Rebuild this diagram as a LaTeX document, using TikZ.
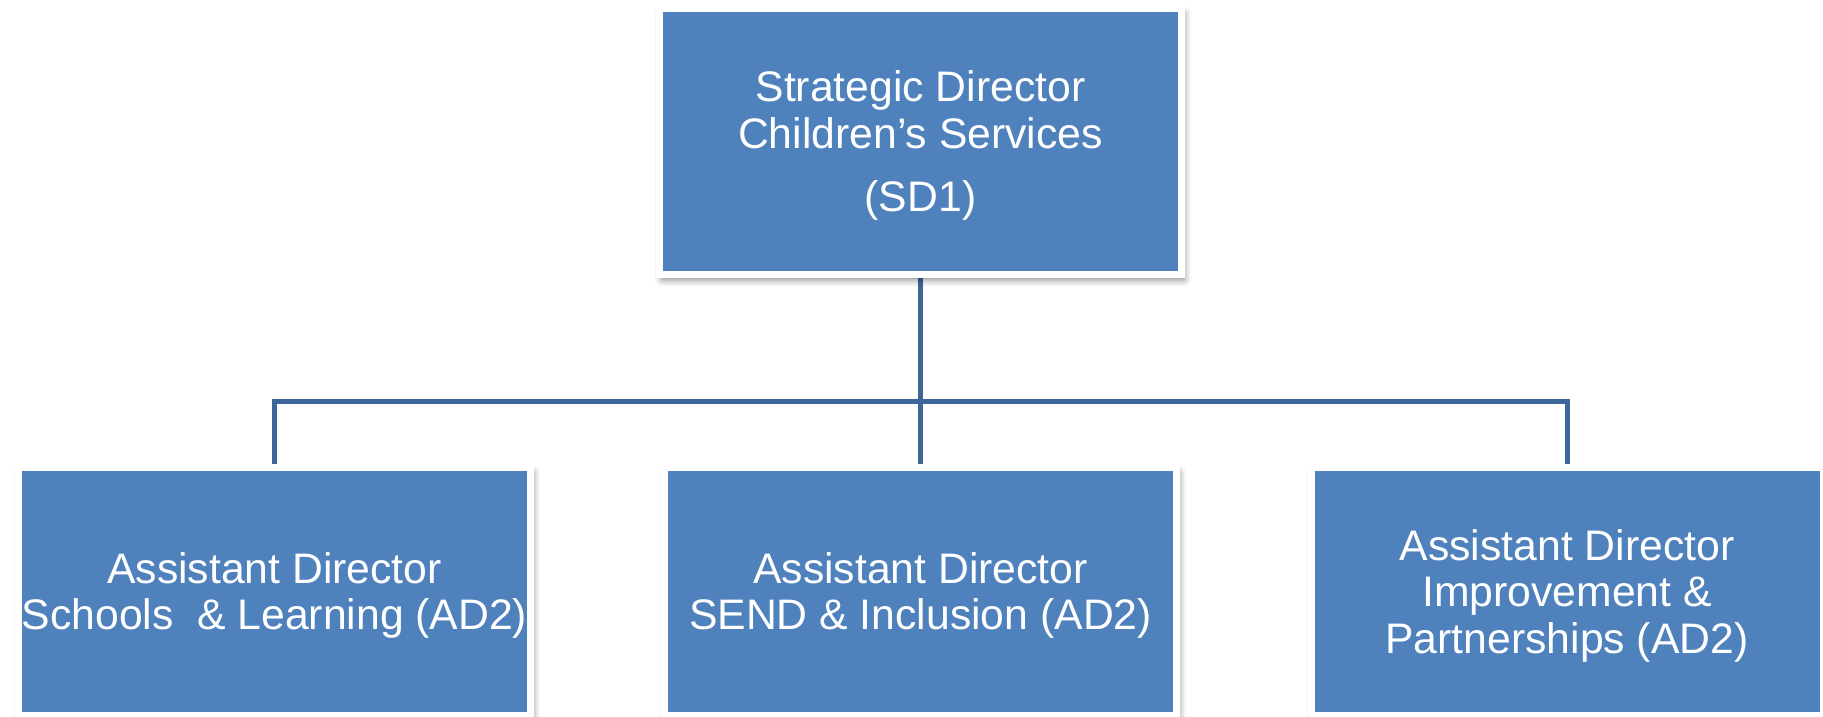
\documentclass[tikz,border=0pt]{standalone}
\usepackage{fontspec}
\setmainfont{Liberation Sans}
\usetikzlibrary{shadows.blur,backgrounds}
\definecolor{boxblue}{RGB}{79,129,189}
\definecolor{linkblue}{RGB}{62,103,153}
\newcommand{\topstrut}{\rule{0pt}{39pt}}
\tikzset{
  orgbox/.style={rectangle, fill=boxblue, draw=white, line width=7pt,
    text=white, align=center, inner sep=0pt,
    font=\fontsize{42.7}{46.5}\selectfont,
    blur shadow={shadow xshift=2.5pt, shadow yshift=-5pt, shadow blur radius=7pt, shadow opacity=50}},
  topbox/.style={orgbox, minimum width=522pt, minimum height=266pt},
  lowbox/.style={orgbox, minimum width=512pt, minimum height=248pt},
  link/.style={draw=linkblue, line width=5pt}
}
\begin{document}
\begin{tikzpicture}[x=1pt,y=-1pt]
\useasboundingbox (0,0) rectangle (1823,717);
\node[topbox] (sd) at (920.5,141.5) {\topstrut Strategic Director\\Children’s Services\\[17pt](SD1)};
\node[lowbox] (ad1) at (274.5,591.5) {\topstrut Assistant Director\\Schools\ \ \& Learning (AD2)};
\node[lowbox] (ad2) at (920.5,591.5) {\topstrut Assistant Director\\SEND \& Inclusion (AD2)};
\node[lowbox] (ad3) at (1567,591.5) {\topstrut Assistant Director\\Improvement \&\\Partnerships (AD2)};
\coordinate (bar) at (920.5,401);
\begin{pgfonlayer}{background}
\draw[link] (sd.south) -- (bar);
\draw[link] (ad1.north) |- (bar);
\draw[link] (ad3.north) |- (bar);
\draw[link] (ad2.north) -- (bar);
\end{pgfonlayer}
\end{tikzpicture}
\end{document}
